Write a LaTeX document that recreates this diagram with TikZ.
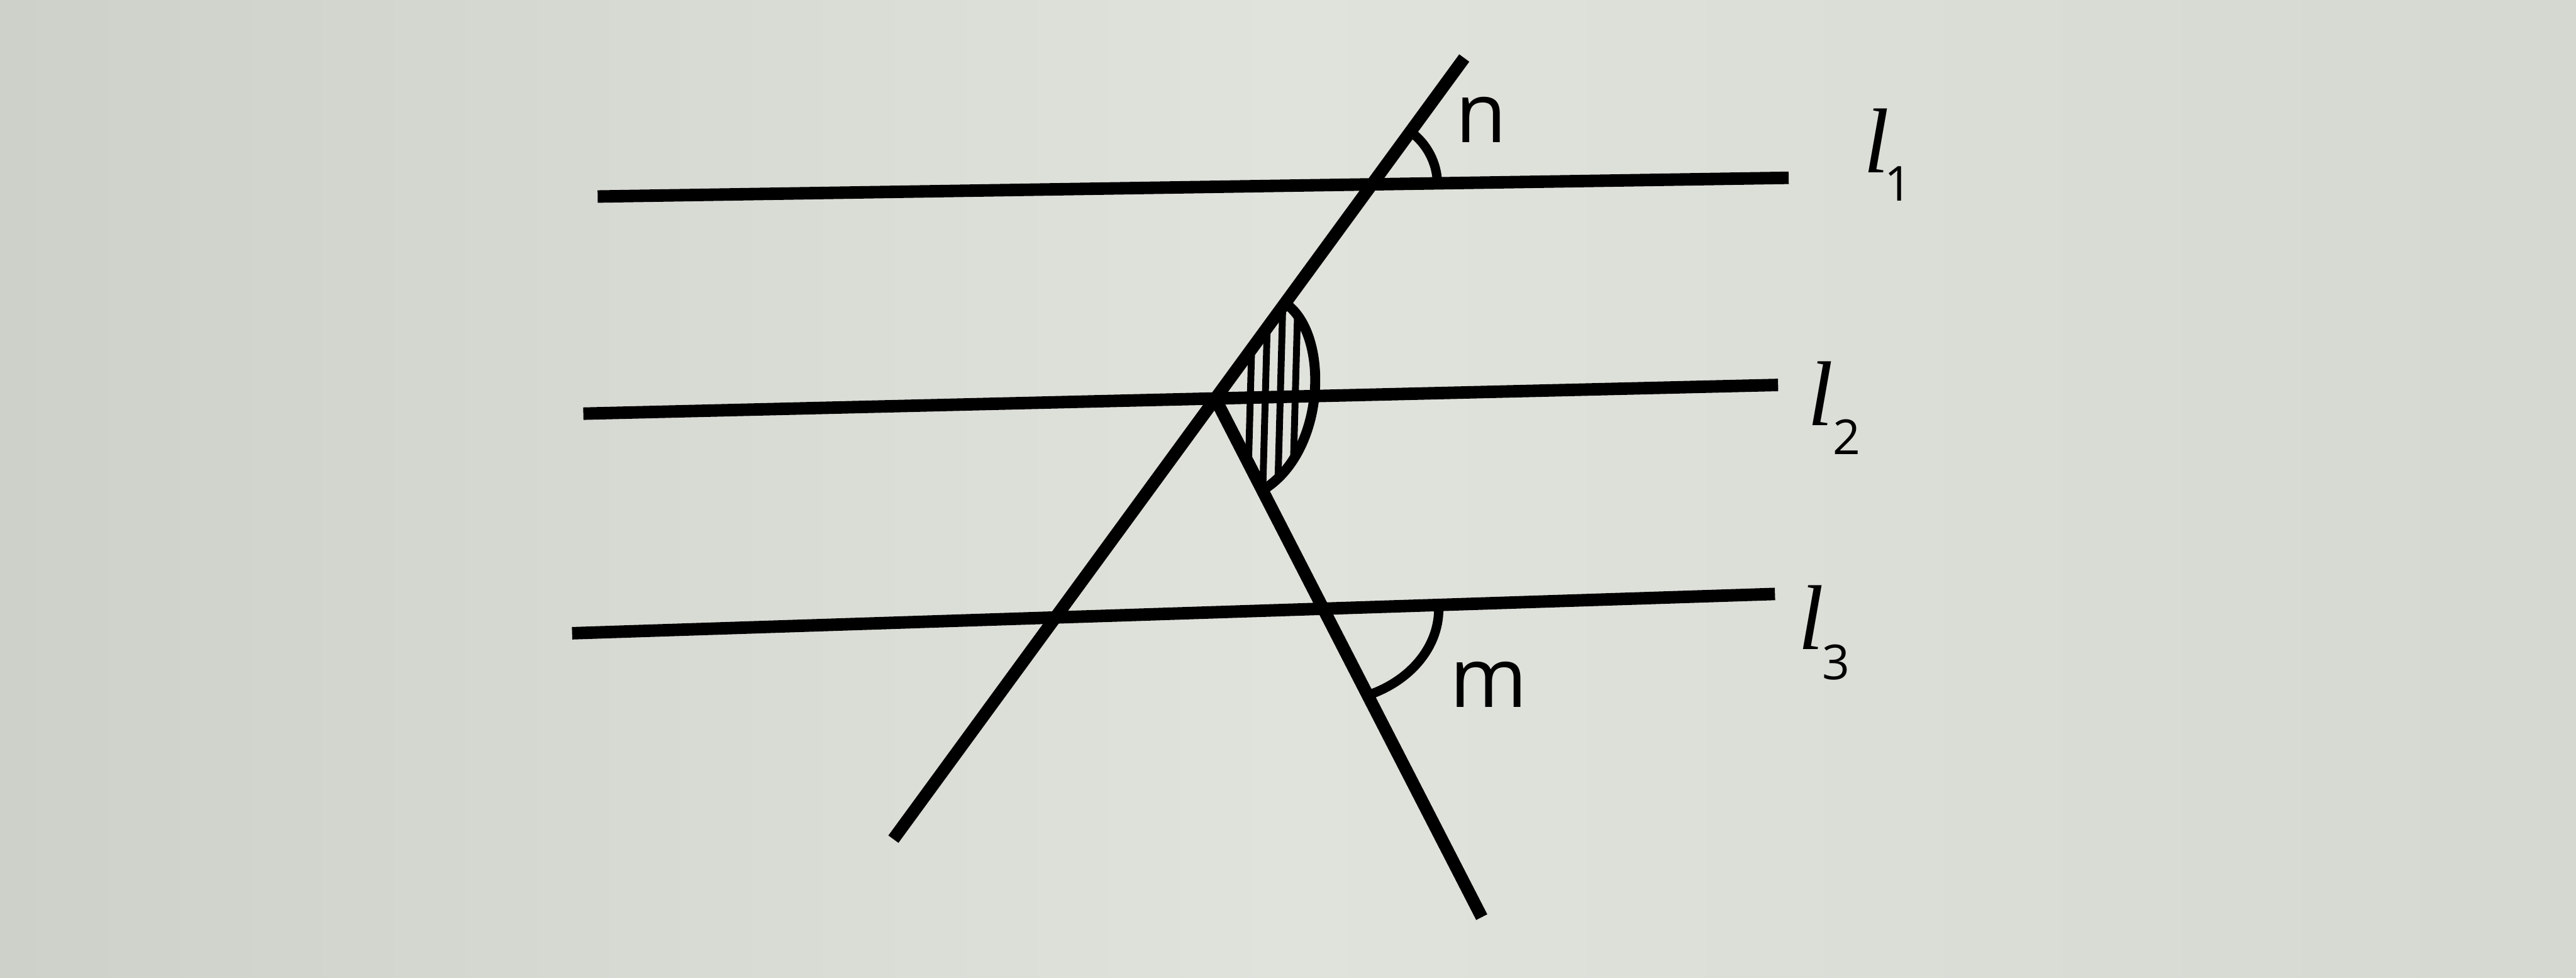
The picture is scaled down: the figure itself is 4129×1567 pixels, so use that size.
\documentclass[tikz,border=0pt]{standalone}
\usepackage{fontspec}
\setmainfont{Open Sans}
\newfontfamily\lfont{Liberation Serif}
\definecolor{paper}{RGB}{224,226,220}
\definecolor{paperdark}{RGB}{206,208,202}
\tikzset{
  parline/.style={line width=2mm},
  anglearc/.style={line width=1.5mm},
  hatchline/.style={line width=1.1mm},
  lname/.style={inner sep=0pt,font=\fontsize{42}{50}\selectfont\lfont\itshape},
  lsub/.style={inner sep=0pt,font=\fontsize{22}{26}\selectfont},
  aname/.style={inner sep=0pt,font=\fontsize{38}{45}\selectfont}
}
\begin{document}
\begin{tikzpicture}[x=0.1mm,y=-0.1mm]
\path[use as bounding box,left color=paperdark,right color=paperdark!60!paper,middle color=paper] (0,0) rectangle (4129,1567);
% points
\coordinate (l1a) at (958,315);
\coordinate (l1b) at (2867,285);
\coordinate (l2a) at (935,663);
\coordinate (l2b) at (2850,617);
\coordinate (l3a) at (917,1015);
\coordinate (l3b) at (2845,952);
\coordinate (t1a) at (1432,1345);
\coordinate (t1b) at (2347,93);
\coordinate (t2b) at (2375,1470);
\coordinate (A) at (2199,296);
\coordinate (B) at (1948,639);
\coordinate (C) at (2121,976);
\coordinate (top) at (2060,486);
\coordinate (bot) at (2023,786);
% hatched angle
\begin{scope}
\clip (B) -- (top) .. controls (2132,535) and (2126,725) .. (bot) -- cycle;
\draw[hatchline] (2010,420) -- (1998,860);
\draw[hatchline] (2034,420) -- (2022,860);
\draw[hatchline] (2058,420) -- (2046,860);
\draw[hatchline] (2082,420) -- (2070,860);
\end{scope}
\draw[line width=1.6mm] (top) .. controls (2132,535) and (2126,725) .. (bot);
% lines
\draw[parline] (l1a) -- (l1b);
\draw[parline] (l2a) -- (l2b);
\draw[parline] (l3a) -- (l3b);
\draw[parline] (t1a) -- (t1b);
\draw[parline] (B) -- (t2b);
% angles n and m
\draw[anglearc] (A) ++(-0.9:105) arc[start angle=-0.9,end angle=-53.8,radius=105];
\draw[anglearc] (C) ++(185,-5) arc[start angle=-1.9,end angle=67,x radius=185,y radius=150];
% labels
\node[aname] (n) at (2374,192) {n};
\node[aname] (m) at (2386,1097) {m};
\node[lname] (ll1) at (3008,226) {l};
\node[lsub] (s1) at (3043,294) {1};
\node[lname] (ll2) at (2918,631) {l};
\node[lsub] (s2) at (2960,700) {2};
\node[lname] (ll3) at (2903,990) {l};
\node[lsub] (s3) at (2943,1062) {3};
\end{tikzpicture}
\end{document}
